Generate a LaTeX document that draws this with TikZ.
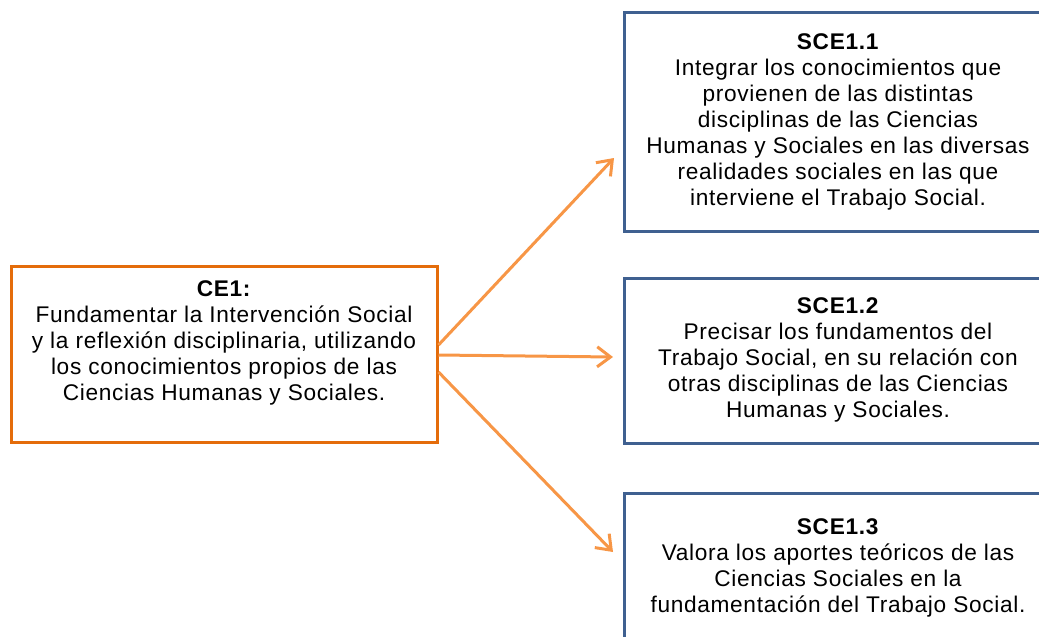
\documentclass[tikz,border=0pt]{standalone}
\usepackage{fontspec}
\setmainfont{Liberation Sans}[LetterSpace=3]
\usetikzlibrary{arrows.meta}
\definecolor{naranja}{HTML}{E46C0A}
\definecolor{naranjaclaro}{HTML}{F79646}
\definecolor{azul}{HTML}{3F6090}
\tikzset{
    RO/.style ={rectangle,minimum width = 319.5pt, minimum height =132pt, draw=naranja, line width=2.25pt},
    RA/.style ={rectangle,minimum width = 321pt, draw=azul, line width=2.25pt},
    TX/.style ={align=center, font=\fontsize{17}{19.5}\selectfont},
    FL/.style ={-{Straight Barb[length=10pt,width=15pt]}, naranjaclaro, line width=2.25pt}}
\begin{document}
\begin{tikzpicture}[x=0.75pt,y=-0.75pt]
        \clip (0,0) rectangle (1039,636);
        \node[RO] (1) at(224,354){};
        \node[TX] (1t) at(224,343){\textbf{CE1:}\\Fundamentar la Intervención Social\\y la reflexión disciplinaria, utilizando\\los conocimientos propios de las\\Ciencias Humanas y Sociales.};
        \node[RA, minimum height=164.25pt] (2) at(838,121.5){};
        \node[TX] (2t) at(838,122){\textbf{SCE1.1}\\Integrar los conocimientos que\\provienen de las distintas\\disciplinas de las Ciencias\\Humanas y Sociales en las diversas\\realidades sociales en las que\\interviene el Trabajo Social.};
        \node[RA, minimum height=123.75pt] (3) at(838,360.5){};
        \node[TX] (3t) at(838,360){\textbf{SCE1.2}\\Precisar los fundamentos del\\Trabajo Social, en su relación con\\otras disciplinas de las Ciencias\\Humanas y Sociales.};
        \node[RA, minimum height=112.5pt] (4) at(838,568){};
        \node[TX] (4t) at(838,568){\textbf{SCE1.3}\\Valora los aportes teóricos de las\\Ciencias Sociales en la\\fundamentación del Trabajo Social.};
        \coordinate (a2) at(614,158);
        \coordinate (a3) at(613,357);
        \coordinate (a4) at(613,552);
        \draw[FL] ([yshift=6.75pt]1.east) --(a2);
        \draw[FL] ([yshift=-0.75pt]1.east) --(a3);
        \draw[FL] ([yshift=-13.5pt]1.east) --(a4);
    \end{tikzpicture}
\end{document}
